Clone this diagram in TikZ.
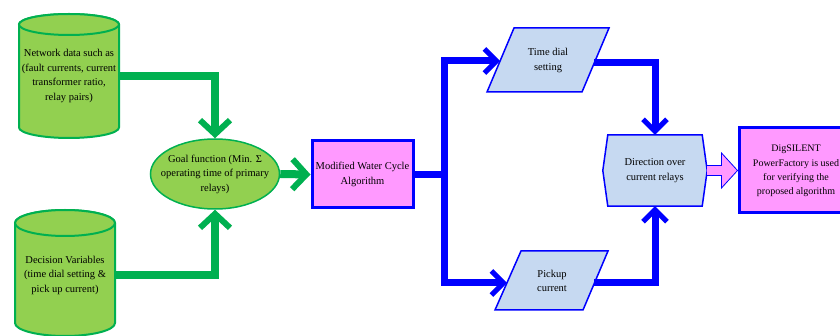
\documentclass[tikz,border=0pt]{standalone}
\usepackage{fontspec}
\setmainfont{Liberation Serif}
\usetikzlibrary{arrows.meta,calc,shapes.geometric}
\definecolor{gfill}{HTML}{92D050}
\definecolor{gline}{HTML}{00B050}
\definecolor{bfill}{HTML}{C6D9F1}
\definecolor{pfill}{HTML}{FF99FF}
\definecolor{bl}{HTML}{0000FF}
\begin{document}
\begin{tikzpicture}[x=1pt,y=-1pt,font=\fontsize{10.5}{14.5}\selectfont,
  txt/.style={align=center,inner sep=0pt},
  cylshape/.style={draw=gline,fill=gfill,line width=2pt},
  garrow/.style={draw=gline,line width=8pt,-{Straight Barb[length=14pt,width=30pt,line width=6pt]}},
  barrow/.style={draw=bl,line width=7pt,-{Straight Barb[length=12pt,width=24pt,line width=5pt]}},
  parashape/.style={draw=bl,fill=bfill,line width=1.5pt,line join=miter},
  pinkbox/.style={draw=bl,fill=pfill,line width=3pt,inner sep=0pt}]
\clip (0,0) rectangle (840,336);
\fill[white] (0,0) rectangle (840,336);

% cylinder 1
\path[cylshape] (19,24.5) -- (19,127.5) arc[start angle=180,end angle=0,x radius=50,y radius=10.5]
  -- (119,24.5) arc[start angle=360,end angle=180,x radius=50,y radius=10.5] -- cycle;
\draw[cylshape] (69,24.5) ellipse[x radius=50,y radius=10.5];
\node[txt,minimum width=100pt,minimum height=124pt] (net) at (69,76)
  {Network data such as\\(fault currents, current\\transformer ratio,\\relay pairs)};

% cylinder 2
\path[cylshape] (15,223) -- (15,323) arc[start angle=180,end angle=0,x radius=50,y radius=13]
  -- (115,223) arc[start angle=360,end angle=180,x radius=50,y radius=13] -- cycle;
\draw[cylshape] (65,223) ellipse[x radius=50,y radius=13];
\node[txt,minimum width=100pt,minimum height=126pt] (dec) at (65,275)
  {Decision Variables\\(time dial setting \&\\pick up current)};

% goal ellipse
\node[ellipse,draw=gline,fill=gfill,line width=1.5pt,minimum width=129pt,minimum height=70pt,inner sep=0pt] (goal) at (215,174) {};
\node[txt] (goaltxt) at (goal.center) {Goal function (Min. Σ\\operating time of primary\\relays)};

% MWCA box
\node[pinkbox,minimum width=101pt,minimum height=67pt,align=center] (mwca) at (362.5,174.5)
  {Modified Water Cycle\\Algorithm};

% parallelograms
\draw[parashape] (487,92) -- (514,28) -- (609,28) -- (582,92) -- cycle;
\node[txt] (tds) at (548,60.5) {Time dial\\setting};
\coordinate (tdsW) at (500,61);
\coordinate (tdsE) at (594,63);
\draw[parashape] (495,310) -- (521,251) -- (608,251) -- (583,310) -- cycle;
\node[txt] (pk) at (552,281) {Pickup\\current};
\coordinate (pkW) at (507,283);
\coordinate (pkE) at (594,283);

% hexagon
\node[txt,minimum width=104pt,minimum height=71pt] (dir) at (655,170.5) {};
\draw[parashape] (dir.west) -- ($(dir.north west)+(5,0)$) -- ($(dir.north east)+(-5,0)$) -- (dir.east)
  -- ($(dir.south east)+(-5,0)$) -- ($(dir.south west)+(5,0)$) -- cycle;
\node[txt] (dirtxt) at (dir.center) {Direction over\\current relays};

% DigSILENT box
\node[pinkbox,minimum width=110pt,minimum height=85pt] (dig) at (794,170.5) {};
\node[txt,font=\fontsize{10}{14.2}\selectfont] (digtxt) at (796,171)
  {DigSILENT\\PowerFactory is used\\for verifying the\\proposed algorithm};

% green connectors
\draw[garrow] (net.east) -| (goal.north);
\draw[garrow] (dec.east) -| (goal.south);
\draw[garrow] (goal.east) -- (mwca.west);

% blue connectors
\draw[barrow] (mwca.east) -- ++(30,0) |- (tdsW);
\draw[barrow] (mwca.east) -- ++(30,0) |- (pkW);
\draw[barrow] (tdsE) -| (dir.north);
\draw[barrow] (pkE) -| (dir.south);

% hollow pink arrow
\draw[draw=bl,fill=pfill,line width=0.8pt] ($(dir.east)+(0,-5)$) -- ($(dig.west)+(-16,-5)$)
  -- ($(dig.west)+(-16,-17.5)$) -- (dig.west) -- ($(dig.west)+(-16,17.5)$)
  -- ($(dig.west)+(-16,5)$) -- ($(dir.east)+(0,5)$);
\end{tikzpicture}
\end{document}
